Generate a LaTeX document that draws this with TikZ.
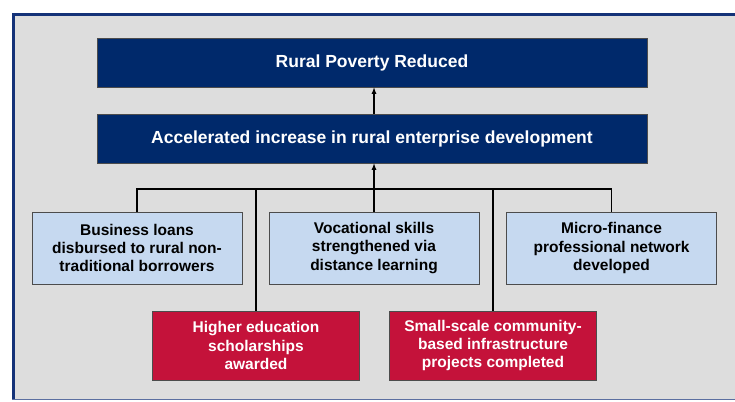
\documentclass[tikz,border=0pt]{standalone}
\usepackage{fontspec}
\setmainfont{Liberation Sans}
\usetikzlibrary{arrows}
\definecolor{navy}{RGB}{0,41,107}
\definecolor{frameblue}{RGB}{20,50,120}
\definecolor{panel}{RGB}{221,221,221}
\definecolor{paleblue}{RGB}{198,217,240}
\definecolor{crimson}{RGB}{196,18,58}
\tikzset{
  box/.style={draw=black!70, line width=0.8pt, align=center, inner sep=0pt,
    font=\bfseries\fontsize{15.5}{18.3}\selectfont},
  goalbox/.style={box, fill=navy, text=white, minimum width=550, minimum height=49,
    font=\bfseries\fontsize{17.5}{20}\selectfont},
  outbox/.style={box, fill=paleblue, text=black, minimum width=210, minimum height=72},
  actbox/.style={box, fill=crimson, text=white, minimum width=207, minimum height=69},
  link/.style={draw=black, line width=1.2pt}
}
\begin{document}
\begin{tikzpicture}[x=1pt,y=-1pt]
    \useasboundingbox (0,0) rectangle (735,401);
    \fill[panel] (12,13) rectangle (735,399);
    \draw[frameblue, line width=3pt] (13.5,399) -- (13.5,14.5) -- (735,14.5);
    \draw[frameblue!70, line width=1.2pt] (12,399.5) -- (735,399.5);

    \node[goalbox] (goal) at (372,62.5) {Rural Poverty Reduced};
    \node[goalbox] (purpose) at (372,138.5) {Accelerated increase in rural enterprise development};

    \node[outbox] (loans) at (137,248) {Business loans\\disbursed to rural non-\\traditional borrowers};
    \node[outbox] (skills) at (374,248) {Vocational skills\\strengthened via\\distance learning};
    \node[outbox] (network) at (611.5,248) {Micro-finance\\professional network\\developed};

    \node[actbox] (scholar) at (256,345.5) {Higher education\\scholarships\\awarded};
    \node[actbox] (infra) at (493,345.5) {Small-scale community-\\based infrastructure\\projects completed};

    \coordinate (bus) at (0,189);
    \draw[link] (loans.north) |- (bus -| network.north) -- (network.north);
    \draw[link] (scholar.north) -- (scholar.north |- bus);
    \draw[link] (infra.north) -- (infra.north |- bus);
    \draw[link, -latex] (skills.north) -- (skills.north |- purpose.south);
    \draw[link, -latex] (purpose.north -| skills.north) -- (goal.south -| skills.north);
\end{tikzpicture}
\end{document}
